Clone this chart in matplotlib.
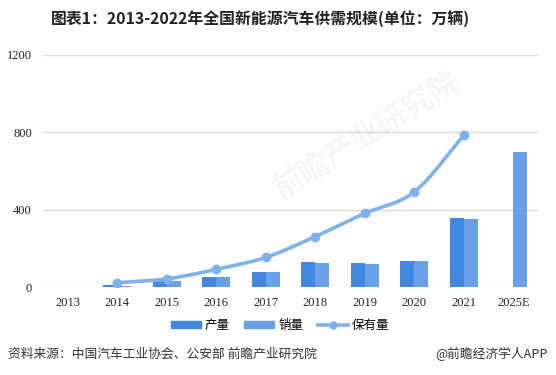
import numpy as np
import matplotlib
matplotlib.use("Agg")
import matplotlib.pyplot as plt
from matplotlib.lines import Line2D
from matplotlib.patches import Patch

plt.rcParams['font.family'] = ['Noto Sans CJK SC', 'DejaVu Sans']

categories = ["2013", "2014", "2015", "2016", "2017", "2018", "2019", "2020", "2021", "2025E"]
production = [1.75, 7.85, 34.0, 51.7, 79.4, 127.0, 124.2, 136.6, 354.5, 0]
sales = [1.76, 7.48, 33.1, 50.7, 77.7, 125.6, 120.6, 136.7, 352.1, 700]
stock = [np.nan, 22, 42, 91, 153, 261, 381, 492, 784, np.nan]
yticks = [0, 400, 800, 1200]

c_prod = "#4287E0"
c_sales = "#69A0E8"
c_line = "#7EB1EE"

W, H = 556, 375
fig = plt.figure(figsize=(W / 100, H / 100), dpi=100)
ax = fig.add_axes([43 / W, 1 - 287 / H, 495 / W, (287 - 55) / H])

x = np.arange(len(categories))
bw = 0.285
ax.bar(x - bw / 2, production, width=bw, color=c_prod, zorder=2)
ax.bar(x + bw / 2, sales, width=bw, color=c_sales, zorder=2)

# smooth line through stock points (Catmull-Rom)
sx = np.array([i for i, v in enumerate(stock) if not np.isnan(v)], dtype=float)
sy = np.array([v for v in stock if not np.isnan(v)], dtype=float)
px = np.concatenate([[2 * sx[0] - sx[1]], sx, [2 * sx[-1] - sx[-2]]])
py = np.concatenate([[2 * sy[0] - sy[1]], sy, [2 * sy[-1] - sy[-2]]])
cx, cy = [], []
for i in range(1, len(px) - 2):
    t = np.linspace(0, 1, 30)
    f = lambda a0, a1, a2, a3: 0.5 * ((2 * a1) + (-a0 + a2) * t + (2 * a0 - 5 * a1 + 4 * a2 - a3) * t ** 2 + (-a0 + 3 * a1 - 3 * a2 + a3) * t ** 3)
    cx.extend(f(px[i - 1], px[i], px[i + 1], px[i + 2]))
    cy.extend(f(py[i - 1], py[i], py[i + 1], py[i + 2]))
ax.plot(cx, cy, color=c_line, lw=2.6, zorder=3, solid_capstyle='round')
ax.plot(sx, sy, 'o', color=c_line, ms=6, zorder=4)

ax.set_xlim(-0.5, len(categories) - 0.5)
ax.set_ylim(0, 1200)
ax.set_yticks(yticks)
ax.set_xticks(x)
ax.set_xticklabels(categories, family='Liberation Serif', fontsize=9, color='#222222')
ax.set_yticklabels([str(v) for v in yticks], family='Liberation Serif', fontsize=9, color='#222222')
ax.tick_params(length=0, pad=7)
ax.tick_params(axis='y', pad=8)
for s in ax.spines.values():
    s.set_visible(False)
ax.yaxis.grid(True, color='#D9D9D9', lw=1)
ax.set_axisbelow(True)

# watermark
fig.text(0.66, 0.64, "前瞻产业研究院", fontsize=22, color='#000000', alpha=0.04,
         rotation=32, ha='center', va='center', weight='bold')

fig.text(261 / W, 1 - 19 / H, "图表1：2013-2022年全国新能源汽车供需规模(单位：万辆)",
         ha='center', va='center', fontsize=11.4, weight='bold', color='#222222')

handles = [Patch(color=c_prod), Patch(color=c_sales),
           Line2D([0], [0], color=c_line, lw=2.6, marker='o', ms=5)]
fig.legend(handles, ["产量", "销量", "保有量"], loc='center', bbox_to_anchor=(280 / W, 1 - 325 / H),
           ncol=3, frameon=False, fontsize=9, handlelength=2.4, handleheight=0.5,
           columnspacing=1.2, handletextpad=0.3)

fig.text(8 / W, 1 - 354 / H, "资料来源：中国汽车工业协会、公安部 前瞻产业研究院", ha='left', va='center',
         fontsize=9.2, color='#333333')
fig.text(548 / W, 1 - 354 / H, "@前瞻经济学人APP", ha='right', va='center',
         fontsize=9.2, color='#333333')

fig.savefig("out.png", dpi=100)
